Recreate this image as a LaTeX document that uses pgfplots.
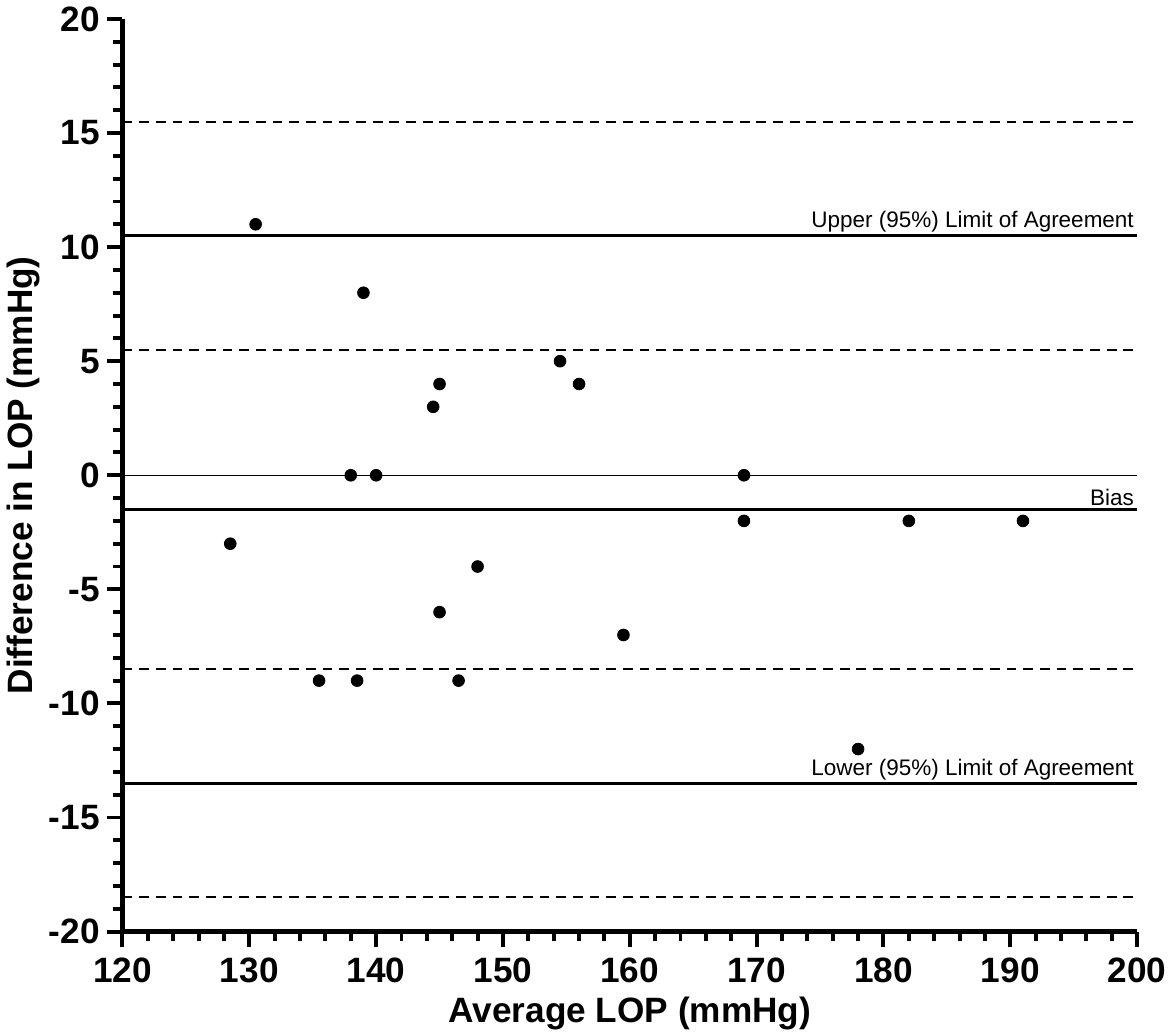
\documentclass[border=0pt]{standalone}
\usepackage{pgfplots}
\pgfplotsset{compat=1.18}
\usepackage{fontspec}
\setmainfont{Liberation Sans}

\begin{document}
\begin{tikzpicture}
\begin{axis}[
  scale only axis,
  width=517bp, height=465bp,
  xmin=120, xmax=200, ymin=-20, ymax=20,
  axis lines*=left,
  axis line style={line width=2.2bp},
  xtick={120,130,...,200}, minor x tick num=4,
  ytick={-20,-15,...,20}, minor y tick num=4,
  tick align=outside,
  major tick length=8bp, minor tick length=5bp,
  every tick/.style={line width=2bp, black},
  tick label style={font=\bfseries\fontsize{18}{21}\selectfont},
  xticklabel style={yshift=-2bp},
  /pgf/number format/assume math mode=true,
  xlabel={Average LOP (mmHg)},
  ylabel={Difference in LOP (mmHg)},
  label style={font=\bfseries\fontsize{18}{21}\selectfont},
  xlabel style={yshift=0bp},
  ylabel style={yshift=-2bp},
  clip=false,
]
% reference lines
\addplot[black, line width=1bp, dash pattern=on 5bp off 3.5bp] coordinates {(120,15.5) (200,15.5)};
\addplot[black, line width=1.3bp] coordinates {(120,10.5) (200,10.5)};
\addplot[black, line width=1bp, dash pattern=on 5bp off 3.5bp] coordinates {(120,5.5) (200,5.5)};
\addplot[black, line width=0.7bp] coordinates {(120,0) (200,0)};
\addplot[black, line width=2bp] coordinates {(120,-1.5) (200,-1.5)};
\addplot[black, line width=1bp, dash pattern=on 5bp off 3.5bp] coordinates {(120,-8.5) (200,-8.5)};
\addplot[black, line width=1.3bp] coordinates {(120,-13.5) (200,-13.5)};
\addplot[black, line width=1bp, dash pattern=on 5bp off 3.5bp] coordinates {(120,-18.5) (200,-18.5)};

% data
\addplot[only marks, mark=*, mark size=3bp, black] coordinates {
  (130.5,11) (139,8) (154.5,5) (156,4) (145,4) (144.5,3)
  (138,0) (140,0) (169,0) (169,-2) (182,-2) (191,-2)
  (128.5,-3) (148,-4) (145,-6) (159.5,-7)
  (135.5,-9) (138.5,-9) (146.5,-9) (178,-12)
};

\node[anchor=south east, inner sep=1.5bp, font=\fontsize{11.5}{13}\selectfont] at (axis cs:200,10.5) {Upper (95\%) Limit of Agreement};
\node[anchor=south east, inner sep=1.5bp, font=\fontsize{11.5}{13}\selectfont] at (axis cs:200,-1.5) {Bias};
\node[anchor=south east, inner sep=1.5bp, font=\fontsize{11.5}{13}\selectfont] at (axis cs:200,-13.5) {Lower (95\%) Limit of Agreement};
\end{axis}
\end{tikzpicture}
\end{document}
